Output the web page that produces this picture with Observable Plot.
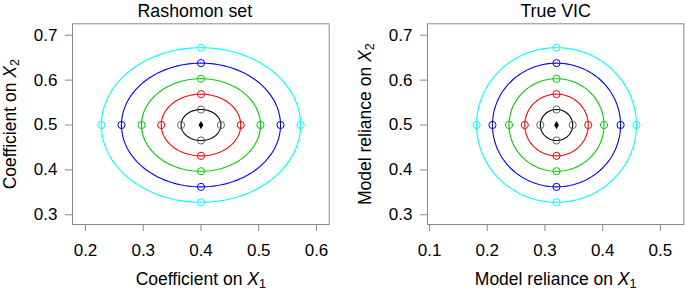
<!DOCTYPE html>
<html>
<head>
<meta charset="utf-8">
<script src="https://cdn.jsdelivr.net/npm/d3@7"></script>
<script src="https://cdn.jsdelivr.net/npm/@observablehq/plot@0.6"></script>
<style>
  html, body { margin: 0; padding: 0; background: white; }
  #chart { display: flex; flex-direction: row; width: 685px; height: 289px; }
</style>
</head>
<body>
<div id="chart"></div>
<script>
// ---- data ----
const levels = ["L1", "L2", "L3", "L4", "L5"];
const lineColors = ["#000000", "#FF0000", "#00CD00", "#0000FF", "#00FFFF"];
const markerColors = ["#666666", "#FF0000", "#00CD00", "#0000FF", "#00FFFF"];

// Rashomon set panel
const rashomonCenter = [0.4, 0.5];
const rashomonRx = [0.0345, 0.0688, 0.103, 0.1377, 0.1725];
const rashomonRy = [0.0345, 0.0687, 0.103, 0.1378, 0.1722];

// True VIC panel
const vicCenter = [0.32, 0.5];
const vicRx = [0.028, 0.055, 0.0823, 0.111, 0.1385];
const vicRy = [0.0345, 0.0687, 0.103, 0.1378, 0.1722];

const leftXTicks = [0.2, 0.3, 0.4, 0.5, 0.6];
const rightXTicks = [0.1, 0.2, 0.3, 0.4, 0.5];
const yTicks = [0.3, 0.4, 0.5, 0.6, 0.7];

function ellipseRows(center, rx, ry) {
  const rows = [];
  levels.forEach((lv, i) => {
    for (let a = 0; a <= 360; a += 3) {
      const t = a * Math.PI / 180;
      rows.push({level: lv, color: lineColors[i], x: center[0] + rx[i] * Math.cos(t), y: center[1] + ry[i] * Math.sin(t)});
    }
  });
  return rows;
}
function markerRows(center, rx, ry) {
  const rows = [];
  levels.forEach((lv, i) => {
    const c = markerColors[i];
    rows.push({color: c, x: center[0] - rx[i], y: center[1]});
    rows.push({color: c, x: center[0] + rx[i], y: center[1]});
    rows.push({color: c, x: center[0], y: center[1] - ry[i]});
    rows.push({color: c, x: center[0], y: center[1] + ry[i]});
  });
  return rows;
}

const TICK_FS = 17;
const LABEL_FS = 17.5;

function panel({width, marginLeft, marginRight, xDomain, xTicks, center, rx, ry, title, titleDx, xLabel, yLabel}) {
  return Plot.plot({
    width, height: 289,
    marginLeft, marginRight, marginTop: 23.3, marginBottom: 65,
    x: {domain: xDomain},
    y: {domain: [0.2784, 0.7254]},
    color: {type: "identity"},
    style: {fontFamily: "'Liberation Sans', Arial, Helvetica, sans-serif", fontSize: "17px", background: "white", overflow: "visible", color: "black"},
    marks: [
      Plot.frame({stroke: "#8a8a8a"}),
      Plot.axisX(xTicks, {color: "black", stroke: "#8a8a8a", tickSize: 7, tickPadding: 12, label: null, fontSize: TICK_FS, tickFormat: d => d.toFixed(1)}),
      Plot.axisY(yTicks, {color: "black", stroke: "#8a8a8a", tickSize: 7, tickPadding: 8, label: null, fontSize: TICK_FS, tickFormat: d => d.toFixed(1)}),
      Plot.line(ellipseRows(center, rx, ry), {x: "x", y: "y", z: "level", stroke: "color", strokeWidth: 1.1}),
      Plot.dot(markerRows(center, rx, ry), {x: "x", y: "y", stroke: "color", r: 3.6, fill: "none", strokeWidth: 1}),
      Plot.dot([{x: center[0], y: center[1]}], {x: "x", y: "y", symbol: "diamond", fill: "black", r: 2.5}),
      Plot.text([title], {frameAnchor: "top", dy: -7, dx: titleDx, lineAnchor: "bottom", fontSize: 17.8}),
      Plot.text([xLabel], {frameAnchor: "bottom", dy: 48.5, lineAnchor: "top", fontSize: LABEL_FS}),
      Plot.text([yLabel], {frameAnchor: "left", dx: -69, rotate: -90, lineAnchor: "top", textAnchor: "middle", fontSize: LABEL_FS})
    ]
  });
}

function subscripts(svg) {
  d3.select(svg).selectAll("text").each(function() {
    const t = this.textContent;
    const m = t.match(/^(.*)X_(\d)$/);
    if (m) {
      const el = d3.select(this);
      el.text("");
      el.append("tspan").text(m[1]);
      el.append("tspan").attr("font-style", "italic").text("X");
      el.append("tspan").attr("font-size", "0.72em").attr("dy", "0.22em").text(m[2]);
    }
  });
}

const left = panel({
  width: 342, marginLeft: 72, marginRight: 13.3,
  xDomain: [0.1775, 0.622], xTicks: leftXTicks,
  center: rashomonCenter, rx: rashomonRx, ry: rashomonRy,
  title: "Rashomon set", titleDx: -6,
  xLabel: "Coefficient on X_1", yLabel: "Coefficient on X_2"
});
const right = panel({
  width: 343, marginLeft: 85, marginRight: 1.7,
  xDomain: [0.0965, 0.5405], xTicks: rightXTicks,
  center: vicCenter, rx: vicRx, ry: vicRy,
  title: "True VIC", titleDx: 0,
  xLabel: "Model reliance on X_1", yLabel: "Model reliance on X_2"
});
subscripts(left);
subscripts(right);
document.getElementById("chart").append(left, right);
</script>
</body>
</html>
